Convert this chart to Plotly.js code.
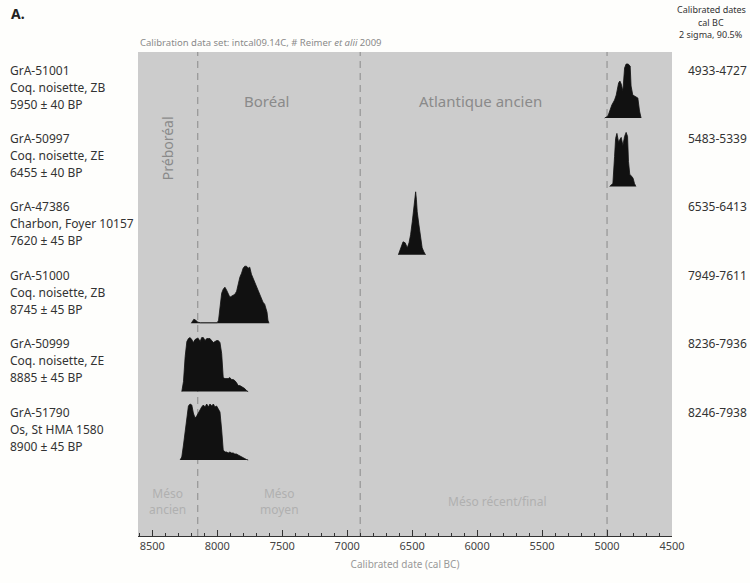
<!DOCTYPE html>
<html>
<head>
<meta charset="utf-8">
<script src="https://cdn.plot.ly/plotly-3.0.1.min.js"></script>
<style>
  html, body { margin: 0; padding: 0; background: #fefefc; }
  #chart { width: 750px; height: 583px; }
</style>
</head>
<body>
<div id="chart"></div>
<script>
// ---------- DATA ----------
const labIds      = ['GrA-51001', 'GrA-50997', 'GrA-47386', 'GrA-51000', 'GrA-50999', 'GrA-51790'];
const labMaterial = ['Coq. noisette, ZB', 'Coq. noisette, ZE', 'Charbon, Foyer 10157', 'Coq. noisette, ZB', 'Coq. noisette, ZE', 'Os, St HMA 1580'];
const labBP       = ['5950 \u00b1 40 BP', '6455 \u00b1 40 BP', '7620 \u00b1 45 BP', '8745 \u00b1 45 BP', '8885 \u00b1 45 BP', '8900 \u00b1 45 BP'];
const calRanges   = ['4933-4727', '5483-5339', '6535-6413', '7949-7611', '8236-7936', '8246-7938'];

// calibrated probability distributions (cal BC, relative probability)
const years1 = [5018, 4993, 4963, 4942, 4929, 4911, 4901, 4891, 4878, 4865, 4853, 4838, 4822, 4815, 4802, 4789, 4776, 4763, 4750, 4738];
const prob1  = [0, 2, 13, 18, 23, 35, 37, 34, 27, 50, 54, 54, 52, 32, 23, 22, 21, 20, 7, 0];

const years2 = [4980, 4955, 4942, 4934, 4924, 4911, 4901, 4891, 4878, 4865, 4853, 4842, 4835, 4825, 4809, 4799, 4789, 4778];
const prob2  = [0, 3, 30, 48, 53, 44, 47, 49, 41, 50, 54, 50, 25, 12, 10, 8, 3, 0];

const years3 = [6606, 6588, 6570, 6554, 6537, 6524, 6512, 6499, 6486, 6478, 6473, 6467, 6461, 6448, 6435, 6423, 6410, 6397];
const prob3  = [0, 7, 13, 12, 7, 12, 20, 33, 50, 60, 63, 55, 43, 30, 20, 7, 3, 0];

const years4 = [8200, 8190, 8180, 8165, 8150, 8130, 8000, 7990, 7979, 7966, 7954, 7941, 7928, 7916, 7903, 7890, 7877, 7864, 7851, 7839, 7826, 7813, 7801, 7788, 7775, 7762, 7750, 7737, 7724, 7711, 7698, 7686, 7673, 7660, 7648, 7635, 7625, 7617, 7610, 7602];
const prob4  = [0, 2, 4, 3, 1, 0.5, 0.5, 3, 15, 30, 34, 36, 33, 30, 26, 27, 28, 29, 32, 40, 46, 50, 55, 57, 57, 55, 56, 49, 45, 41, 37, 33, 28, 24, 21, 19, 15, 11, 3, 0];

const years5 = [8273, 8260, 8247, 8234, 8222, 8209, 8196, 8184, 8171, 8158, 8145, 8132, 8120, 8107, 8094, 8081, 8069, 8056, 8043, 8030, 8018, 8005, 7992, 7979, 7966, 7954, 7941, 7928, 7916, 7903, 7890, 7877, 7865, 7852, 7839, 7826, 7813, 7801, 7788, 7775, 7762];
const prob5  = [0, 10, 35, 50, 53, 54, 52, 49, 52, 53, 53, 50, 54, 54, 51, 53, 53, 53, 51, 49, 50, 51, 51, 49, 38, 14, 13, 13, 13, 14, 12, 12, 11, 9, 6, 6, 5, 4, 3, 1, 0];

const years6 = [8286, 8273, 8260, 8247, 8234, 8222, 8209, 8196, 8184, 8171, 8158, 8145, 8132, 8120, 8107, 8094, 8081, 8069, 8056, 8043, 8030, 8018, 8005, 7992, 7979, 7966, 7954, 7941, 7928, 7916, 7903, 7890, 7877, 7865, 7852, 7839, 7826, 7813, 7801, 7788, 7775, 7762];
const prob6  = [0, 3, 15, 30, 45, 54, 56, 55, 47, 42, 44, 47, 51, 53, 55, 53, 56, 53, 56, 54, 56, 53, 54, 51, 48, 30, 10, 8, 8, 7, 8, 7, 7, 6, 6, 5, 4, 3, 2, 1, 0.5, 0];

const distYears = [years1, years2, years3, years4, years5, years6];
const distProbs = [prob1, prob2, prob3, prob4, prob5, prob6];

// climatic periods / cultural phases
const periodBounds   = [8150, 6900, 5000];
const climateNames   = ['Boréal', 'Atlantique ancien'];
const climateX       = [7620, 5973];
const prebName       = 'Préboréal';
const prebX          = 8385;
const phaseNames     = ['Méso<br>ancien', 'Méso<br>moyen', 'Méso récent/final'];
const phaseX         = [8385, 7520, 5850];
const xTicks         = [8500, 8000, 7500, 7000, 6500, 6000, 5500, 5000, 4500];

// ---------- STYLE / LAYOUT HELPERS ----------
const FONT = '"Noto Sans", "DejaVu Sans", sans-serif';
const W = 750, H = 583;
const M = {l: 138, r: 78, t: 52, b: 47};
const plotW = W - M.l - M.r, plotH = H - M.t - M.b;
const rowPx = 68.4;             // pixel spacing between rows
const probScale = 1 / rowPx;    // prob units -> row units
const baseRowPx = 460;          // pixel y of bottom row baseline
const yMin = -(H - M.b - baseRowPx) / rowPx;
const yMax = (baseRowPx - M.t) / rowPx;
const px2paperX = px => (px - M.l) / plotW;
const px2paperY = py => (H - M.b - py) / plotH;
const py2row = py => (baseRowPx - py) / rowPx;
const nRows = labIds.length;

// ---------- TRACES ----------
const traces = distYears.map((yrs, i) => {
  const base = nRows - 1 - i;
  const xs = [yrs[0]].concat(yrs, [yrs[yrs.length - 1]]);
  const ys = [base].concat(distProbs[i].map(p => base + p * probScale), [base]);
  return {
    type: 'scatter', mode: 'lines', x: xs, y: ys,
    fill: 'toself', fillcolor: '#111111',
    line: {color: '#111111', width: 0.8},
    hoverinfo: 'skip', showlegend: false
  };
});

// ---------- ANNOTATIONS ----------
const ann = [];
const lineOffsets = [48, 31, 14];
for (let i = 0; i < nRows; i++) {
  const base = nRows - 1 - i;
  [labIds[i], labMaterial[i], labBP[i]].forEach((t, k) => {
    ann.push({text: t, xref: 'paper', x: px2paperX(8), xanchor: 'left',
      yref: 'y', y: base, yshift: lineOffsets[k], yanchor: 'middle',
      showarrow: false, font: {family: FONT, size: 12, color: '#333'}});
  });
  ann.push({text: calRanges[i], xref: 'paper', x: px2paperX(717), xanchor: 'center',
    yref: 'y', y: base, yshift: 48, yanchor: 'middle',
    showarrow: false, font: {family: FONT, size: 12, color: '#333'}});
}
// header right
['Calibrated dates', 'cal BC', '2 sigma, 90.5%'].forEach((t, k) => {
  ann.push({text: t, xref: 'paper', x: px2paperX(711), xanchor: 'center',
    yref: 'paper', y: px2paperY([10, 22, 34][k]), yanchor: 'middle',
    showarrow: false, font: {family: FONT, size: 9, color: '#333'}});
});
// panel letter
ann.push({text: '<b>A.</b>', xref: 'paper', x: px2paperX(9), xanchor: 'left',
  yref: 'paper', y: px2paperY(14), yanchor: 'middle', showarrow: false,
  font: {family: FONT, size: 14, color: '#222'}});
// calibration caption
ann.push({text: 'Calibration data set: intcal09.14C, # Reimer <i>et alii</i> 2009',
  xref: 'paper', x: 0, xanchor: 'left', yref: 'paper', y: px2paperY(43), yanchor: 'middle',
  showarrow: false, font: {family: FONT, size: 9.5, color: '#8a8a8a'}});
// climatic periods
climateNames.forEach((t, k) => {
  ann.push({text: t, xref: 'x', x: climateX[k], xanchor: 'center',
    yref: 'y', y: py2row(101), yanchor: 'middle', showarrow: false,
    font: {family: FONT, size: 15, color: '#8a8a8a'}});
});
ann.push({text: prebName, xref: 'x', x: prebX, xanchor: 'center',
  yref: 'y', y: py2row(148), yanchor: 'middle', textangle: -90, showarrow: false,
  font: {family: FONT, size: 14, color: '#8a8a8a'}});
// cultural phases
phaseNames.forEach((t, k) => {
  ann.push({text: t, xref: 'x', x: phaseX[k], xanchor: 'center',
    yref: 'y', y: py2row(501), yanchor: 'middle', showarrow: false,
    font: {family: FONT, size: 12, color: '#b0b0b0'}});
});

// ---------- SHAPES ----------
const shapes = periodBounds.map(b => ({
  type: 'line', xref: 'x', x0: b, x1: b, yref: 'paper', y0: 0, y1: 1, layer: 'below',
  line: {color: '#8a8a8a', width: 1, dash: '7px,5px'}
}));

const layout = {
  width: W, height: H,
  margin: M,
  paper_bgcolor: '#fefefc',
  plot_bgcolor: '#cccccc',
  showlegend: false,
  xaxis: {
    range: [8610, 4500],
    tickvals: xTicks,
    ticks: 'inside', ticklen: 6, tickwidth: 1, tickcolor: '#333',
    minor: {ticks: 'inside', ticklen: 3, dtick: 100, tick0: 0, tickcolor: '#333', showgrid: false},
    showline: true, linecolor: '#333', linewidth: 1,
    showgrid: false, zeroline: false,
    tickfont: {family: FONT, size: 11, color: '#444'},
    title: {text: 'Calibrated date (cal BC)', font: {family: FONT, size: 10, color: '#999'}, standoff: 8}
  },
  yaxis: {
    range: [yMin, yMax], visible: false, showgrid: false, zeroline: false, fixedrange: true
  },
  annotations: ann,
  shapes: shapes
};

Plotly.newPlot('chart', traces, layout, {displayModeBar: false, staticPlot: true});
</script>
</body>
</html>
